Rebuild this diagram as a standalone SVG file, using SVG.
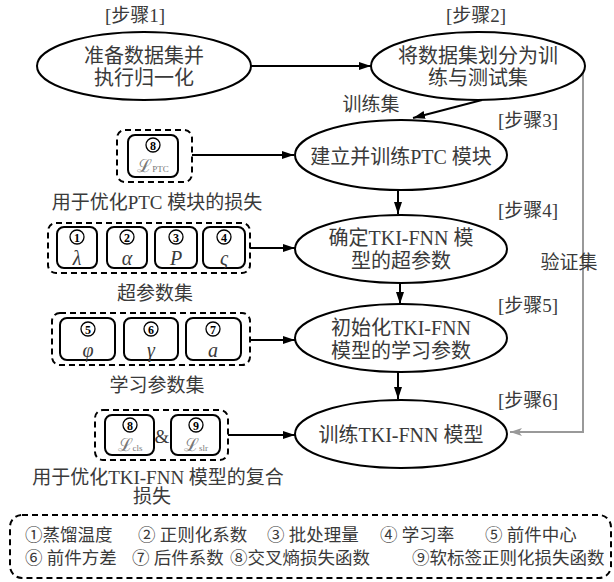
<svg xmlns="http://www.w3.org/2000/svg" width="614" height="582" viewBox="0 0 614 582">
<style>
text{font-family:"Liberation Serif","Noto Sans CJK SC",serif;fill:#3a3a3a;dominant-baseline:central}
.t{font-size:20px;text-anchor:middle}
.s{font-size:19px;text-anchor:middle}
.lg{font-size:17.5px}
.el{fill:#fff;stroke:#000;stroke-width:2}
.dash{fill:none;stroke:#000;stroke-width:2;stroke-dasharray:6 4}
.box{fill:#fff;stroke:#000;stroke-width:2}
.cn{fill:none;stroke:#000;stroke-width:1.3}
.cd{font-size:12px;font-weight:bold;text-anchor:middle;fill:#000}
.sym{font-size:20px;font-style:italic;text-anchor:middle}
.L{font-size:18px;text-anchor:middle;fill:#777}
.ar{fill:none;stroke:#000;stroke-width:2}
</style>
<defs>
<marker id="ah" markerUnits="userSpaceOnUse" markerWidth="13" markerHeight="10" refX="12" refY="4" orient="auto"><path d="M0,0 L12,4 L0,8 z" fill="#000"/></marker>
<marker id="ag" markerUnits="userSpaceOnUse" markerWidth="13" markerHeight="10" refX="12" refY="4" orient="auto"><path d="M0,0 L12,4 L0,8 L3,4 z" fill="#999"/></marker>
</defs>

<g id="connectors">
<line class="ar" x1="251" y1="66" x2="371" y2="66" marker-end="url(#ah)"/>
<line class="ar" x1="482" y1="100" x2="413" y2="118" marker-end="url(#ah)"/>
<line class="ar" x1="398" y1="190" x2="398" y2="214" marker-end="url(#ah)"/>
<line class="ar" x1="400" y1="283" x2="400" y2="304" marker-end="url(#ah)"/>
<line class="ar" x1="398" y1="372" x2="398" y2="399" marker-end="url(#ah)"/>
<line class="ar" x1="192" y1="155" x2="294" y2="155" marker-end="url(#ah)"/>
<line class="ar" x1="250" y1="248" x2="295" y2="248" marker-end="url(#ah)"/>
<line class="ar" x1="250" y1="340" x2="295" y2="340" marker-end="url(#ah)"/>
<line class="ar" x1="228" y1="435" x2="295" y2="435" marker-end="url(#ah)"/>
<polyline points="583,73 583,432 510,432" fill="none" stroke="#999" stroke-width="2" marker-end="url(#ag)"/>
<text class="s" x="371" y="104">训练集</text>
<text class="s" x="569" y="262">验证集</text>
</g>

<g id="steps">
<text class="s" x="135" y="15">[步骤1]</text>
<text class="s" x="476" y="15">[步骤2]</text>
<text class="s" x="528" y="120">[步骤3]</text>
<text class="s" x="528" y="210">[步骤4]</text>
<text class="s" x="528" y="305">[步骤5]</text>
<text class="s" x="528" y="400">[步骤6]</text>
</g>

<g id="n1"><ellipse class="el" cx="144" cy="66" rx="107" ry="34"/>
<text class="t" x="144" y="56">准备数据集并</text><text class="t" x="144" y="78">执行归一化</text></g>
<g id="n2"><ellipse class="el" cx="478" cy="66" rx="107" ry="34"/>
<text class="t" x="478" y="56">将数据集划分为训</text><text class="t" x="478" y="78">练与测试集</text></g>
<g id="n3"><ellipse class="el" cx="401" cy="155" rx="106" ry="35"/>
<text class="t" x="401" y="157">建立并训练PTC 模块</text></g>
<g id="n4"><ellipse class="el" cx="401" cy="249" rx="106" ry="34"/>
<text class="t" x="401" y="238">确定TKI-FNN 模</text><text class="t" x="401" y="261">型的超参数</text></g>
<g id="n5"><ellipse class="el" cx="401" cy="338" rx="106" ry="34"/>
<text class="t" x="401" y="328">初始化TKI-FNN</text><text class="t" x="401" y="351">模型的学习参数</text></g>
<g id="n6"><ellipse class="el" cx="401" cy="434" rx="106" ry="34"/>
<text class="t" x="401" y="435">训练TKI-FNN 模型</text></g>

<g id="ptc">
<rect class="dash" x="117" y="130" width="75" height="52" rx="8"/>
<rect class="box" x="128" y="135" width="50" height="42" rx="7"/>
<circle class="cn" cx="153" cy="145" r="7"/><text class="cd" x="153" y="145.5">8</text>
<text class="L" x="153" y="166">ℒ<tspan font-size="9" dy="3">PTC</tspan></text>
<text class="s" x="157" y="202">用于优化PTC 模块的损失</text>
</g>

<g id="hyper">
<rect class="dash" x="48" y="223" width="202" height="50" rx="8"/>
<rect class="box" x="57" y="227" width="40" height="41" rx="7"/>
<rect class="box" x="107" y="227" width="40" height="41" rx="7"/>
<rect class="box" x="155" y="227" width="42" height="41" rx="7"/>
<rect class="box" x="203" y="227" width="42" height="41" rx="7"/>
<circle class="cn" cx="77" cy="237" r="7"/><text class="cd" x="77" y="237.5">1</text>
<circle class="cn" cx="127" cy="237" r="7"/><text class="cd" x="127" y="237.5">2</text>
<circle class="cn" cx="176" cy="237" r="7"/><text class="cd" x="176" y="237.5">3</text>
<circle class="cn" cx="224" cy="237" r="7"/><text class="cd" x="224" y="237.5">4</text>
<text class="sym" x="77" y="258">λ</text>
<text class="sym" x="127" y="258">α</text>
<text class="sym" x="176" y="258">P</text>
<text class="sym" x="224" y="258">ς</text>
<text class="s" x="155" y="293">超参数集</text>
</g>

<g id="learn">
<rect class="dash" x="52" y="313" width="198" height="52" rx="8"/>
<rect class="box" x="60" y="318" width="55" height="42" rx="7"/>
<rect class="box" x="124" y="318" width="54" height="42" rx="7"/>
<rect class="box" x="186" y="318" width="55" height="42" rx="7"/>
<circle class="cn" cx="88" cy="329" r="7"/><text class="cd" x="88" y="329.5">5</text>
<circle class="cn" cx="151" cy="329" r="7"/><text class="cd" x="151" y="329.5">6</text>
<circle class="cn" cx="213" cy="329" r="7"/><text class="cd" x="213" y="329.5">7</text>
<text class="sym" x="88" y="350">φ</text>
<text class="sym" x="151" y="350">γ</text>
<text class="sym" x="213" y="350">a</text>
<text class="s" x="157" y="385">学习参数集</text>
</g>

<g id="loss">
<rect class="dash" x="95" y="410" width="133" height="50" rx="8"/>
<rect class="box" x="105" y="415" width="49" height="40" rx="7"/>
<rect class="box" x="171" y="415" width="49" height="40" rx="7"/>
<circle class="cn" cx="130" cy="425" r="7"/><text class="cd" x="130" y="425.5">8</text>
<circle class="cn" cx="196" cy="425" r="7"/><text class="cd" x="196" y="425.5">9</text>
<text class="L" x="130" y="445">ℒ<tspan font-size="9" dy="3">cls</tspan></text>
<text class="L" x="196" y="445">ℒ<tspan font-size="9" dy="3">slr</tspan></text>
<text class="s" x="162" y="436">&amp;</text>
<text class="s" x="158" y="477">用于优化TKI-FNN 模型的复合</text>
<text class="s" x="152" y="496">损失</text>
</g>

<g id="legend">
<rect class="dash" x="10" y="515" width="601" height="63" rx="12"/>
<text class="lg" x="25" y="535">①蒸馏温度</text>
<text class="lg" x="138" y="535">② 正则化系数</text>
<text class="lg" x="267" y="535">③ 批处理量</text>
<text class="lg" x="380" y="535">④ 学习率</text>
<text class="lg" x="485" y="535">⑤ 前件中心</text>
<text class="lg" x="25" y="558">⑥ 前件方差</text>
<text class="lg" x="132" y="558">⑦ 后件系数</text>
<text class="lg" x="230" y="558">⑧交叉熵损失函数</text>
<text class="lg" x="412" y="558">⑨软标签正则化损失函数</text>
</g>
</svg>
